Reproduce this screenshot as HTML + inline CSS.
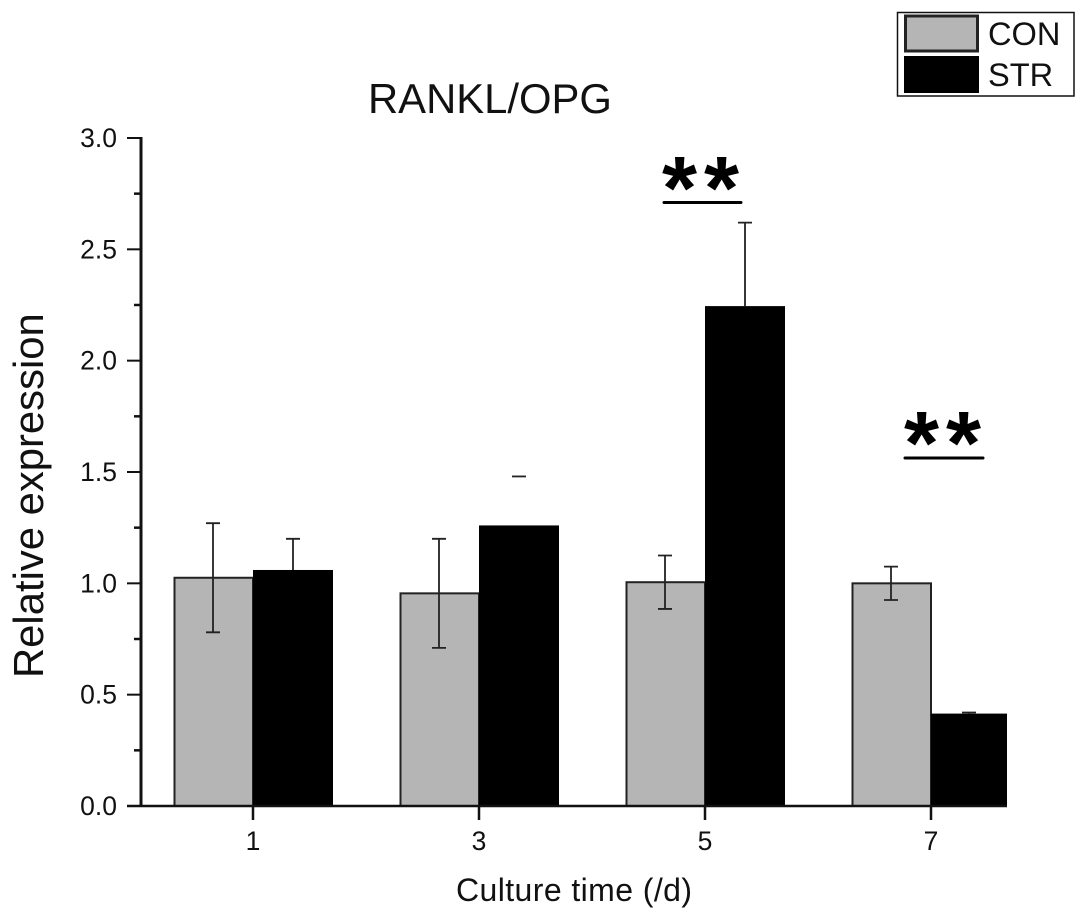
<!DOCTYPE html>
<html>
<head>
<meta charset="utf-8">
<title>RANKL/OPG</title>
<style>
html,body{margin:0;padding:0;background:#fff;width:1087px;height:922px;overflow:hidden}
svg{display:block}
text{font-family:"Liberation Sans",Arial,sans-serif;fill:#111}
</style>
</head>
<body>
<svg id="chart" width="1087" height="922" viewBox="0 0 1087 922" xmlns="http://www.w3.org/2000/svg">
<rect x="0" y="0" width="1087" height="922" fill="#fff"/>
<text x="368" y="113" font-size="41.8">RANKL/OPG</text>
<text transform="translate(43,678) rotate(-90)" font-size="41.8">Relative expression</text>
<text x="456" y="901" font-size="32" textLength="236" lengthAdjust="spacing">Culture time (/d)</text>
<g id="plot"></g>
<g>
<text x="662" y="219" font-size="90" font-weight="bold" letter-spacing="7" style="fill:#000">**</text>
<line x1="664" x2="741" y1="202.5" y2="202.5" stroke="#000" stroke-width="3" stroke-linecap="round"/>
</g>
<g>
<text x="904" y="474" font-size="90" font-weight="bold" letter-spacing="7" style="fill:#000">**</text>
<line x1="905" x2="983" y1="458" y2="458" stroke="#000" stroke-width="3" stroke-linecap="round"/>
</g>
<g>
<rect x="897.5" y="12.5" width="176.5" height="83.5" fill="#fff" stroke="#111" stroke-width="1.5"/>
<rect x="905.5" y="16" width="72" height="35" fill="#b5b5b5" stroke="#222" stroke-width="3"/>
<rect x="904" y="56" width="75" height="37" fill="#000"/>
<text x="988" y="45" font-size="32.6">CON</text>
<text x="988" y="86" font-size="32.6">STR</text>
</g>
</svg>
<script>
const categories = ['1', '3', '5', '7'];
const conValues = [1.025, 0.955, 1.005, 1.0];
const conErrors = [0.245, 0.245, 0.12, 0.075];
const strValues = [1.06, 1.26, 2.245, 0.415];
const strErrors = [0.14, 0.22, 0.375, 0.005];
const strStemVisible = [true, false, true, true];
const yTickLabels = ['0.0', '0.5', '1.0', '1.5', '2.0', '2.5', '3.0'];
const yMinorTicks = [0.25, 0.75, 1.25, 1.75, 2.25, 2.75];

const NS = 'http://www.w3.org/2000/svg';
const plot = document.getElementById('plot');
function yScale(v) { return 806 - v * 222.67; }
function xScale(c) { return 253 + 226 * categories.indexOf(c); }
const barWidth = 79;
const xAxisEnd = 1007;
function add(parent, tag, attrs) {
  const el = document.createElementNS(NS, tag);
  for (const k in attrs) el.setAttribute(k, attrs[k]);
  parent.appendChild(el);
  return el;
}
categories.forEach(function (c, i) {
  const cx = xScale(c);
  const cy = yScale(conValues[i]);
  const conBar = add(plot, 'rect', {x: cx - barWidth + 0.5, y: cy, width: barWidth - 0.5, height: 806 - cy, fill: '#b5b5b5', stroke: '#222', 'stroke-width': 2});
  
  
  const sy = yScale(strValues[i]);
  const right = Math.min(cx + barWidth + 1, xAxisEnd);
  const strBar = add(plot, 'rect', {x: cx, y: sy, width: right - cx, height: 807 - sy, fill: '#000'});
  
  
  const ecx = cx - 40;
  const top = yScale(conValues[i] + conErrors[i]);
  const bot = yScale(conValues[i] - conErrors[i]);
  const conErr = add(plot, 'path', {d: 'M' + ecx + ' ' + top + 'V' + bot + 'M' + (ecx - 7) + ' ' + top + 'H' + (ecx + 7) + 'M' + (ecx - 7) + ' ' + bot + 'H' + (ecx + 7), fill: 'none', stroke: '#222', 'stroke-width': 1.8});
  
  
  const ex = (cx + right) / 2;
  const stop = yScale(strValues[i] + strErrors[i]);
  const stemPath = strStemVisible[i] ? 'M' + ex + ' ' + stop + 'V' + sy : '';
  const strErr = add(plot, 'path', {d: stemPath + 'M' + (ex - 7) + ' ' + stop + 'H' + (ex + 7), fill: 'none', stroke: '#222', 'stroke-width': 1.8});
  
  
  const tick = add(plot, 'line', {x1: cx, x2: cx, y1: 806, y2: 820, stroke: '#111', 'stroke-width': 2.5});
  
  
  const lbl = add(plot, 'text', {x: cx, y: 850, 'font-size': 26.5, 'text-anchor': 'middle'});
  lbl.textContent = c;
  
  
});
yTickLabels.forEach(function (t) {
  const y = yScale(parseFloat(t));
  const tick = add(plot, 'line', {x1: 127, x2: 141, y1: y, y2: y, stroke: '#111', 'stroke-width': 2});
  
  
  const lbl = add(plot, 'text', {x: 117, y: y + 9, 'font-size': 26.5, 'text-anchor': 'end'});
  lbl.textContent = t;
  
  
});
yMinorTicks.forEach(function (v) {
  const y = yScale(v);
  const tick = add(plot, 'line', {x1: 134, x2: 141, y1: y, y2: y, stroke: '#111', 'stroke-width': 2.5});
  
  
});
const yAxis = add(plot, 'line', {x1: 141, x2: 141, y1: yScale(3) - 1, y2: 807, stroke: '#111', 'stroke-width': 3});


const xAxis = add(plot, 'line', {x1: 127, x2: xAxisEnd, y1: 806, y2: 806, stroke: '#111', 'stroke-width': 2.5});


</script>
</body>
</html>
